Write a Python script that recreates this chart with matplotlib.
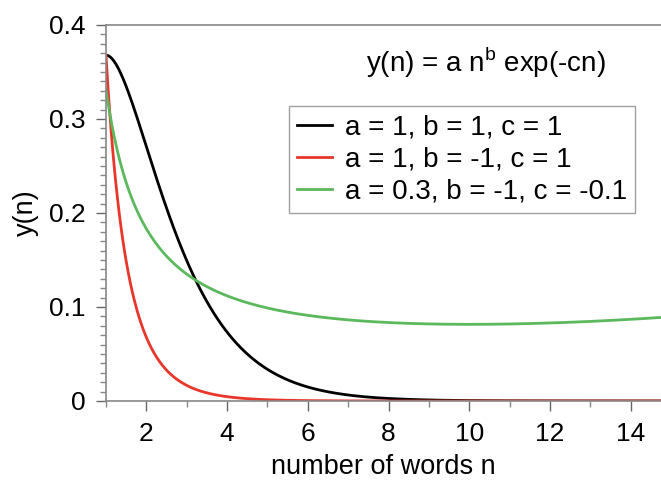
import numpy as np
import matplotlib
matplotlib.use("Agg")
import matplotlib.pyplot as plt
from matplotlib.ticker import MultipleLocator

# Parameters of y(n) = a n^b exp(-cn), as given in the legend
a_vals = [1.0, 1.0, 0.3]
b_vals = [1.0, -1.0, -1.0]
c_vals = [1.0, 1.0, -0.1]
labels = ["a = 1, b = 1, c = 1", "a = 1, b = -1, c = 1", "a = 0.3, b = -1, c = -0.1"]
colors = ["#000000", "#e8372a", "#5cb85c"]
x_ticks = [2, 4, 6, 8, 10, 12, 14]
y_ticks = [0, 0.1, 0.2, 0.3, 0.4]
y_tick_labels = ["0", "0.1", "0.2", "0.3", "0.4"]

plt.rcParams['font.family'] = ['Liberation Sans', 'DejaVu Sans']

fig = plt.figure(figsize=(6.61, 4.8), dpi=100)
ax = fig.add_axes([106/661, 1-401/480, 1-106/661, (401-25)/480])

n = np.linspace(1, 15, 600)
for a, b, c, lab, col in zip(a_vals, b_vals, c_vals, labels, colors):
    ax.plot(n, a * n**b * np.exp(-c * n), color=col, lw=2, label=lab)

ax.set_xlim(1, 14.75)
ax.set_ylim(0, 0.4)
ax.set_xticks(x_ticks)
ax.set_yticks(y_ticks)
ax.set_yticklabels(y_tick_labels)
ax.xaxis.set_minor_locator(MultipleLocator(1))
ax.yaxis.set_minor_locator(MultipleLocator(0.01))
ax.tick_params(axis='both', which='major', labelsize=19, length=7, width=1, color='#666666', pad=8)
ax.tick_params(axis='both', which='minor', length=4, width=1, color='#888888')

for side in ['top', 'bottom', 'left']:
    ax.spines[side].set_color('#888888')
    ax.spines[side].set_linewidth(1.2)
ax.spines['right'].set_visible(False)

ax.set_xlabel("number of words n", fontsize=19.5, labelpad=6)
ax.set_ylabel("y(n)", fontsize=19.5, labelpad=7)

ax.text((486-106)/555, (401-62)/376, r"y(n) = a n$^{\mathregular{b}}$ exp(-cn)", transform=ax.transAxes,
        ha='center', va='center', fontsize=20)

leg = ax.legend(loc='upper left', bbox_to_anchor=((289-106)/555, (401-106)/376),
                fontsize=20, handlelength=1.25, handletextpad=0.45, labelspacing=0.22,
                borderpad=0.3, borderaxespad=0, frameon=True, fancybox=False)
leg.get_frame().set_edgecolor('#888888')
leg.get_frame().set_linewidth(1.0)

fig.savefig("out.png", dpi=100)
